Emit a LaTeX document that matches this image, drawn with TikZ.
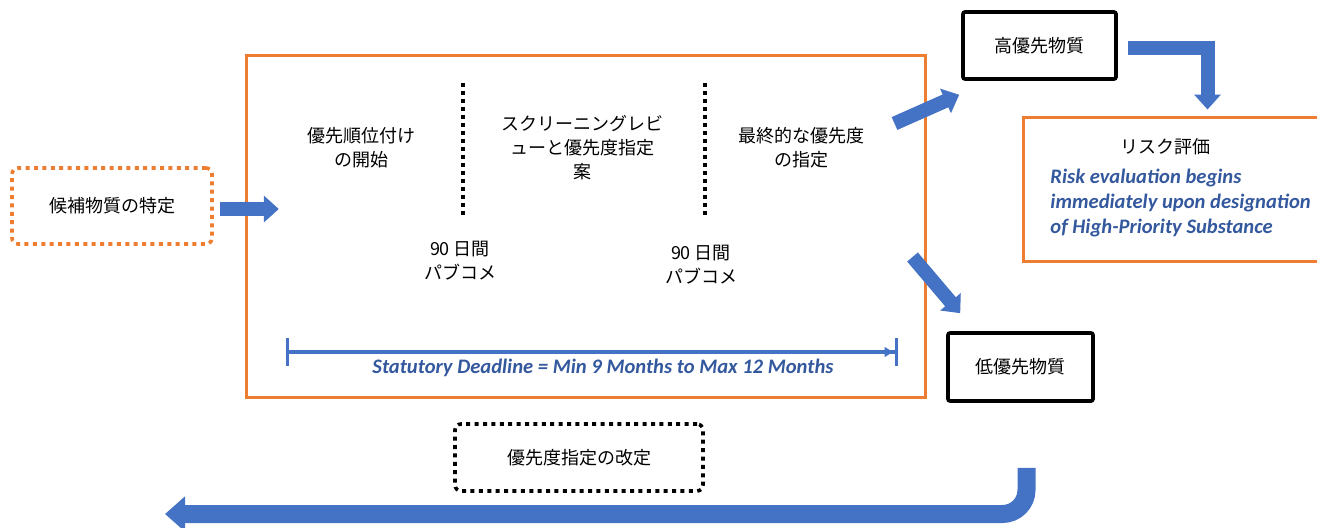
\documentclass[tikz,border=0pt]{standalone}
\usepackage{fontspec}
\setmainfont{Noto Sans CJK JP}
\newfontfamily\engfont{Carlito}
\usetikzlibrary{arrows.meta,calc}
\definecolor{boxorange}{RGB}{237,125,49}
\definecolor{flowblue}{RGB}{68,114,196}
\definecolor{noteblue}{RGB}{52,88,158}

\begin{document}
\begin{tikzpicture}[x=0.5pt, y=-0.5pt, thick,
  every node/.style={font=\fontsize{9}{12}\selectfont, align=center},
  orangebox/.style={draw=boxorange, line width=1.5pt},
  blackbox/.style={draw=black, line width=1.8pt, rounded corners=1pt},
  dotbox/.style={line width=1.8pt, dash pattern=on 2pt off 2.2pt, rounded corners=3pt},
  sepline/.style={line width=2pt, dash pattern=on 2pt off 2pt},
  bigarrow/.style={flowblue, line width=7pt, -{Triangle[length=7.5pt, width=13pt]}},
  note/.style={font=\engfont\bfseries\itshape\fontsize{10.3}{12.5}\selectfont, text=noteblue}]

\useasboundingbox (0,0) rectangle (1317,527);

\node[dotbox, draw=boxorange, minimum width=100pt, minimum height=38pt] (cand) at (112,206) {候補物質の特定};
\node[orangebox, minimum width=339.5pt, minimum height=171pt] (frame) at (585.5,226) {};
\node[blackbox, minimum width=76.5pt, minimum height=33.5pt] (high) at (1039.5,45.5) {高優先物質};
\node[blackbox, minimum width=72.5pt, minimum height=34pt] (low) at (1020.5,367) {低優先物質};
\node[orangebox, minimum width=153.5pt, minimum height=72pt] (risk) at (1176.5,189) {};
\node[dotbox, draw=black, minimum width=124pt, minimum height=33.5pt] (revise) at (579,457.5) {優先度指定の改定};

\draw[sepline] (463,83) -- (463,218);
\draw[sepline] (705,83) -- (705,218);

\node (start) at (361,148) {優先順位付け\\の開始};
\node (screen) at (582,148) {スクリーニングレビ\\ューと優先度指定\\案};
\node (final) at (801,148) {最終的な優先度\\の指定};
\node (pc1) at (460,261) {90 日間\\パブコメ};
\node (pc2) at (701,265) {90 日間\\パブコメ};

\coordinate (dimL) at (286,352);
\coordinate (dimR) at (898,352);
\draw[flowblue, line width=1.7pt, {Bar[width=14pt]}-{Latex[length=5pt, width=5.5pt] Bar[width=14pt]}] (dimL) -- (dimR);
\node[note] (deadline) at (603,368) {Statutory Deadline = Min 9 Months to Max 12 Months};

\node (risktitle) at (1165,147) {リスク評価};
\node[note, align=left, anchor=west] (risknote) at (1043,203) {Risk evaluation begins\\immediately upon designation\\of High-Priority Substance};

\draw[bigarrow] ($(cand.east)+(6,3)$) -- ++(59,0);
\draw[bigarrow] ($(frame.north east)+(-32,70)$) -- ($(high.south west)+(-2,14)$);
\draw[bigarrow] ($(frame.east)+(-14,31)$) -- ($(low.north west)+(14,-18)$);
\draw[bigarrow] ($(high.east)+(10,2)$) -| ($(risk.north)+(31,-6)$);

\coordinate (loopstart) at ($(low.south)+(6,65)$);
\coordinate (loopend) at (165,514);
\draw[flowblue, line width=9pt, rounded corners=12pt, -{Triangle[length=10pt, width=17pt]}] (loopstart) |- (loopend);
\end{tikzpicture}
\end{document}
